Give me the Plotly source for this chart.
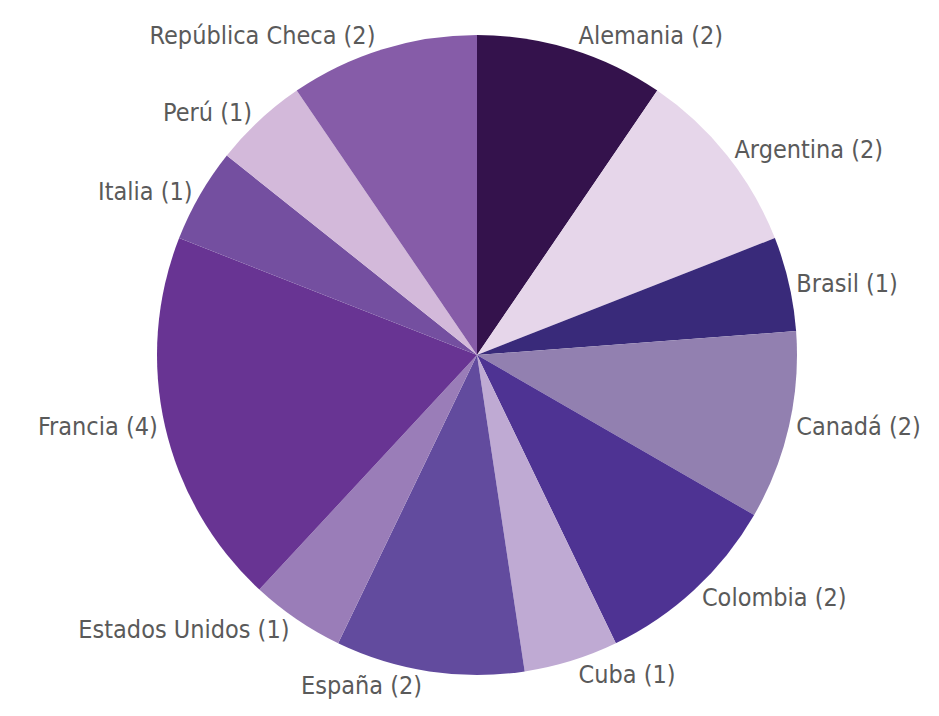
import plotly.graph_objects as go

paises = ["Alemania", "Argentina", "Brasil", "Canadá", "Colombia", "Cuba",
          "España", "Estados Unidos", "Francia", "Italia", "Perú", "República Checa"]
cantidades = [2, 2, 1, 2, 2, 1, 2, 1, 4, 1, 1, 2]
colores = ["#34124c", "#e6d6ea", "#392a7a", "#9280b0", "#4e3393", "#bfaad3",
           "#624b9e", "#9a7db8", "#683493", "#744fa0", "#d3b9da", "#865ca8"]

W, H = 939, 716
cx, cy, r = 469, 347, 320

fig = go.Figure(go.Pie(
    labels=paises,
    values=cantidades,
    sort=False,
    direction="clockwise",
    rotation=0,
    marker=dict(colors=colores, line=dict(width=0)),
    texttemplate="%{label} (%{value})",
    textposition="outside",
    outsidetextfont=dict(family="DejaVu Sans Condensed, sans-serif", size=25, color="#5a5a5a", weight=300),
    hoverinfo="label+value",
    automargin=False,
    domain=dict(x=[(cx - r) / W, (cx + r) / W], y=[1 - (cy + r) / H, 1 - (cy - r) / H]),
))
fig.update_layout(
    width=W, height=H,
    margin=dict(l=0, r=0, t=0, b=0),
    showlegend=False,
    paper_bgcolor="white",
)
fig.write_html("out.html")
